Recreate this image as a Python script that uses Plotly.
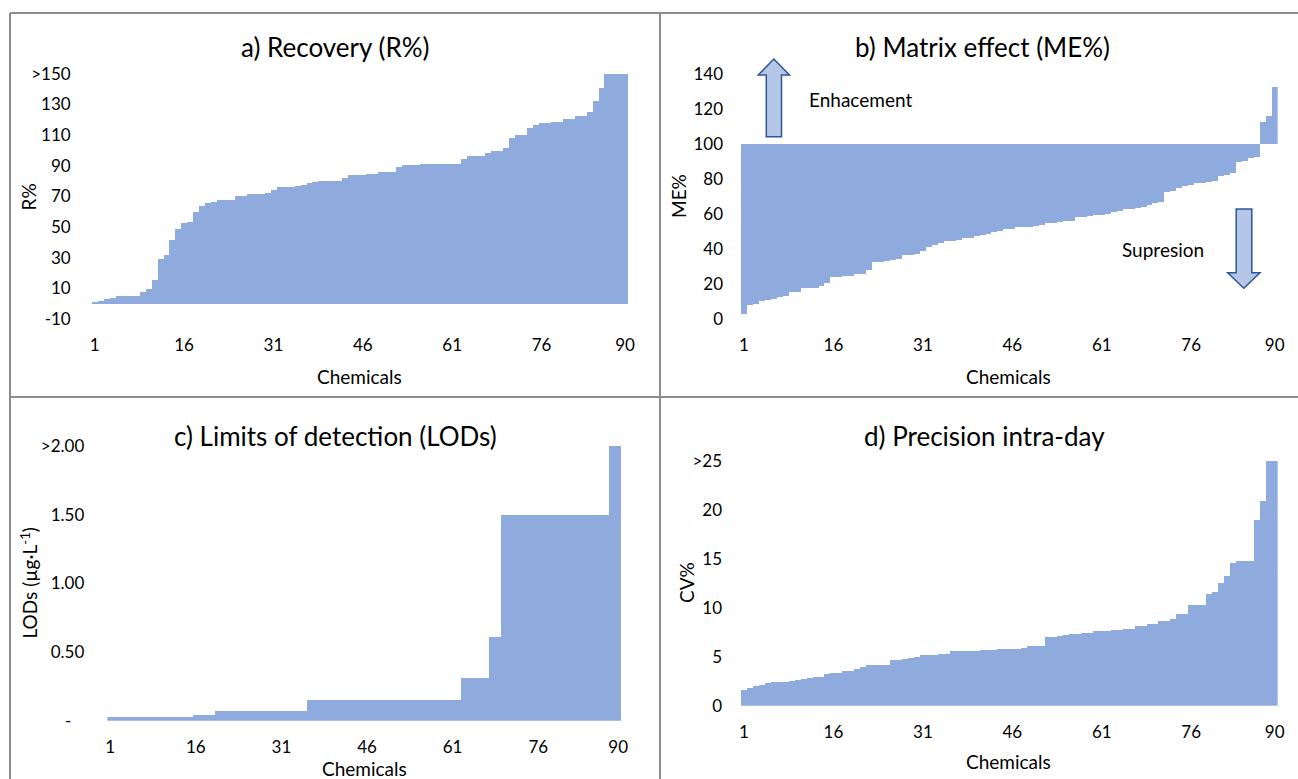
import plotly.graph_objects as go

W, H = 1298, 779

chemicals = list(range(1, 91))
x_tick_vals = [1, 16, 31, 46, 61, 76, 90]
x_tick_text = ["1", "16", "31", "46", "61", "76", "90"]

recovery = [0.6, 1.5, 2.8, 4.0, 4.8, 5.3, 5.3, 5.3, 7.8, 9.3,
            15.4, 29.3, 31.5, 41.5, 48.5, 52.4, 53.3, 60.0, 64.0, 65.5,
            66.6, 67.5, 67.7, 67.7, 70.5, 70.5, 71.4, 71.4, 71.4, 72.0,
            74.2, 75.9, 75.9, 75.9, 76.8, 77.5, 78.6, 79.5, 80.3, 80.3,
            80.3, 80.3, 81.8, 83.8, 83.8, 83.8, 84.6, 84.6, 86.2, 86.2,
            86.2, 89.0, 90.3, 90.3, 90.3, 91.4, 91.4, 91.4, 91.4, 91.4,
            91.4, 91.4, 94.2, 96.2, 96.2, 96.2, 98.2, 99.5, 99.5, 101.8,
            108.4, 110.1, 110.1, 114.9, 116.6, 117.8, 117.8, 118.8, 118.8, 120.4,
            120.4, 122.5, 122.5, 125.3, 132.1, 141.0, 150, 150, 150, 150]

matrix_effect = [3.0, 8.2, 8.5, 10.6, 10.8, 11.8, 12.5, 13.5, 15.4, 15.6,
                 17.7, 17.7, 17.8, 19.0, 20.9, 24.3, 24.3, 24.5, 25.0, 25.7,
                 26.0, 28.1, 32.5, 32.5, 33.0, 33.8, 34.5, 36.7, 36.9, 37.5,
                 39.2, 41.5, 42.5, 43.7, 44.5, 44.9, 45.2, 46.2, 46.5, 47.3,
                 48.1, 48.5, 50.0, 50.5, 51.3, 51.5, 52.5, 52.5, 52.8, 53.4,
                 53.6, 54.8, 55.0, 55.7, 55.9, 56.2, 58.2, 58.4, 58.8, 59.5,
                 59.8, 60.2, 61.4, 61.8, 63.0, 63.2, 63.6, 64.3, 65.2, 66.2,
                 66.8, 72.8, 73.2, 74.8, 76.3, 76.5, 77.6, 78.0, 78.5, 79.0,
                 81.8, 82.5, 83.3, 90.0, 90.5, 91.9, 92.5, 112.8, 116.0, 132.8]
me_reference = 100

lods = [0.025, 0.025, 0.025, 0.025, 0.025, 0.025, 0.025, 0.025, 0.025, 0.025,
        0.025, 0.025, 0.025, 0.025, 0.025, 0.04, 0.04, 0.04, 0.04, 0.07,
        0.07, 0.07, 0.07, 0.07, 0.07, 0.07, 0.07, 0.07, 0.07, 0.07,
        0.07, 0.07, 0.07, 0.07, 0.07, 0.155, 0.155, 0.155, 0.155, 0.155,
        0.155, 0.155, 0.155, 0.155, 0.155, 0.155, 0.155, 0.155, 0.155, 0.155,
        0.155, 0.155, 0.155, 0.155, 0.155, 0.155, 0.155, 0.155, 0.155, 0.155,
        0.155, 0.155, 0.31, 0.31, 0.31, 0.31, 0.31, 0.61, 0.61, 1.5,
        1.5, 1.5, 1.5, 1.5, 1.5, 1.5, 1.5, 1.5, 1.5, 1.5,
        1.5, 1.5, 1.5, 1.5, 1.5, 1.5, 1.5, 1.5, 2.0, 2.0]

cv = [1.6, 1.85, 2.0, 2.1, 2.35, 2.45, 2.45, 2.5, 2.6, 2.65,
      2.8, 2.9, 2.95, 3.0, 3.3, 3.35, 3.4, 3.55, 3.6, 3.8,
      4.0, 4.2, 4.2, 4.2, 4.2, 4.66, 4.7, 4.8, 4.9, 5.0,
      5.17, 5.2, 5.25, 5.27, 5.3, 5.6, 5.6, 5.6, 5.62, 5.65,
      5.68, 5.7, 5.75, 5.79, 5.8, 5.8, 5.85, 5.92, 6.13, 6.13,
      6.15, 7.04, 7.05, 7.1, 7.28, 7.3, 7.35, 7.45, 7.5, 7.66,
      7.66, 7.7, 7.8, 7.8, 7.82, 7.9, 8.13, 8.15, 8.34, 8.4,
      8.67, 8.7, 8.91, 9.36, 9.4, 10.28, 10.3, 10.35, 11.4, 11.6,
      12.55, 13.27, 14.6, 14.77, 14.77, 14.8, 19.0, 20.9, 25, 25]

rec_ticks = [-10, 10, 30, 50, 70, 90, 110, 130, 150]
rec_ticktext = ["-10", "10", "30", "50", "70", "90", "110", "130", ">150"]
me_ticks = [0, 20, 40, 60, 80, 100, 120, 140]
me_ticktext = ["0", "20", "40", "60", "80", "100", "120", "140"]
lod_ticks = [0, 0.5, 1.0, 1.5, 2.0]
lod_ticktext = ["-\u00a0\u00a0\u00a0", "0.50", "1.00", "1.50", ">2.00"]
cv_ticks = [0, 5, 10, 15, 20, 25]
cv_ticktext = ["0", "5", "10", "15", "20", ">25"]

titles = ["a) Recovery (R%)", "b) Matrix effect (ME%)",
          "c) Limits of detection (LODs)", "d) Precision intra-day"]
y_titles = ["R%", "ME%", "LODs (µg·L<sup>-1</sup>)", "CV%"]

BAR = "#8FAADC"
FONT = "Lato"
TXT = "#000000"


def px(x):
    return x / W


def py(y):
    return 1 - y / H


fig = go.Figure()

fig.add_trace(go.Bar(x=chemicals, y=recovery, width=1, marker_color=BAR,
                     marker_line_width=0, xaxis="x", yaxis="y"))
fig.add_trace(go.Bar(x=chemicals, y=[v - me_reference for v in matrix_effect],
                     base=me_reference, width=1, marker_color=BAR,
                     marker_line_width=0, xaxis="x2", yaxis="y2"))
fig.add_trace(go.Bar(x=chemicals, y=lods, width=1, marker_color=BAR,
                     marker_line_width=0, xaxis="x3", yaxis="y3"))
fig.add_trace(go.Bar(x=chemicals, y=cv, width=1, marker_color=BAR,
                     marker_line_width=0, xaxis="x4", yaxis="y4"))

panels = [
    ((91.7, 628.0), (73.9, 318.9), [-10, 150], rec_ticks, rec_ticktext, 20),
    ((741.0, 1277.7), (74.0, 319.3), [0, 140], me_ticks, me_ticktext, 17),
    ((107.3, 621.0), (445.9, 720.7), [0, 2.0], lod_ticks, lod_ticktext, 22),
    ((741.0, 1277.7), (460.7, 705.7), [0, 25], cv_ticks, cv_ticktext, 18),
]

layout_axes = {}
for i, (xd, yd, yr, tv, tt, ystand) in enumerate(panels):
    sfx = "" if i == 0 else str(i + 1)
    layout_axes["xaxis" + sfx] = dict(
        domain=[px(xd[0]), px(xd[1])], anchor="y" + sfx, automargin=False,
        range=[0.5, 90.5], tickmode="array", tickvals=x_tick_vals,
        ticktext=x_tick_text, showgrid=False, zeroline=False, showline=False,
        ticks="", ticklabelstandoff=14,
        tickfont=dict(family=FONT, size=17, color=TXT), fixedrange=True)
    layout_axes["yaxis" + sfx] = dict(
        domain=[py(yd[1]), py(yd[0])], anchor="x" + sfx, automargin=False,
        range=yr, tickmode="array", tickvals=tv, ticktext=tt,
        showgrid=False, zeroline=False, showline=False, ticks="",
        ticklabelstandoff=ystand,
        tickfont=dict(family=FONT, size=17, color=TXT), fixedrange=True)

annotations = []
title_pos = [(334.5, 46.7), (983, 46.7), (335, 436), (984, 436)]
for t, (x, y) in zip(titles, title_pos):
    annotations.append(dict(text=t, x=px(x), y=py(y), xref="paper", yref="paper",
                            xanchor="center", yanchor="middle", showarrow=False,
                            font=dict(family=FONT, size=26, color=TXT)))
ytitle_pos = [(28.5, 197), (678, 196), (28.5, 583), (686, 583)]
for t, (x, y) in zip(y_titles, ytitle_pos):
    annotations.append(dict(text=t, x=px(x), y=py(y), xref="paper", yref="paper",
                            xanchor="center", yanchor="middle", showarrow=False,
                            textangle=-90,
                            font=dict(family=FONT, size=19, color=TXT)))
xtitle_pos = [(359.5, 376.7), (1008, 376.7), (364, 768), (1008, 761.7)]
for x, y in xtitle_pos:
    annotations.append(dict(text="Chemicals", x=px(x), y=py(y), xref="paper",
                            yref="paper", xanchor="center", yanchor="middle",
                            showarrow=False,
                            font=dict(family=FONT, size=19, color=TXT)))
annotations.append(dict(text="Enhacement", x=px(860), y=py(99.3), xref="paper",
                        yref="paper", xanchor="center", yanchor="middle",
                        showarrow=False, font=dict(family=FONT, size=19, color=TXT)))
annotations.append(dict(text="Supresion", x=px(1162.5), y=py(249.3), xref="paper",
                        yref="paper", xanchor="center", yanchor="middle",
                        showarrow=False, font=dict(family=FONT, size=19, color=TXT)))


def path(points):
    return "M " + " L ".join(f"{px(a):.5f},{py(b):.5f}" for a, b in points) + " Z"


shapes = []
BORDER = "#8c8c8c"
for (x0, y0, x1, y1) in [(10, 13, 1298, 13), (10, 13, 10, 779),
                         (660, 13, 660, 779), (10, 397, 1298, 397)]:
    shapes.append(dict(type="line", xref="paper", yref="paper",
                       x0=px(x0), y0=py(y0), x1=px(x1), y1=py(y1),
                       line=dict(color=BORDER, width=2)))

up_arrow = [(773.8, 59), (789.5, 75), (781.5, 75), (781.5, 136.7),
            (766.3, 136.7), (766.3, 75), (758.2, 75)]
down_arrow = [(1236.2, 209), (1251.8, 209), (1251.8, 272.7), (1260, 272.7),
              (1243.8, 288.3), (1227.7, 272.7), (1236.2, 272.7)]
for arr in (up_arrow, down_arrow):
    shapes.append(dict(type="path", xref="paper", yref="paper", path=path(arr),
                       fillcolor="#B4C7E7", line=dict(color="#2F5597", width=1.5)))

fig.update_layout(
    width=W, height=H, margin=dict(l=0, r=0, t=0, b=0, pad=0, autoexpand=False),
    paper_bgcolor="white", plot_bgcolor="white", showlegend=False,
    bargap=0, barmode="overlay",
    annotations=annotations, shapes=shapes, **layout_axes)

fig.write_html(
    "out.html",
    config={"displayModeBar": False},
    post_script="document.body.style.margin='0';"
                "document.body.style.overflow='hidden';"
                "document.documentElement.style.overflow='hidden';")
